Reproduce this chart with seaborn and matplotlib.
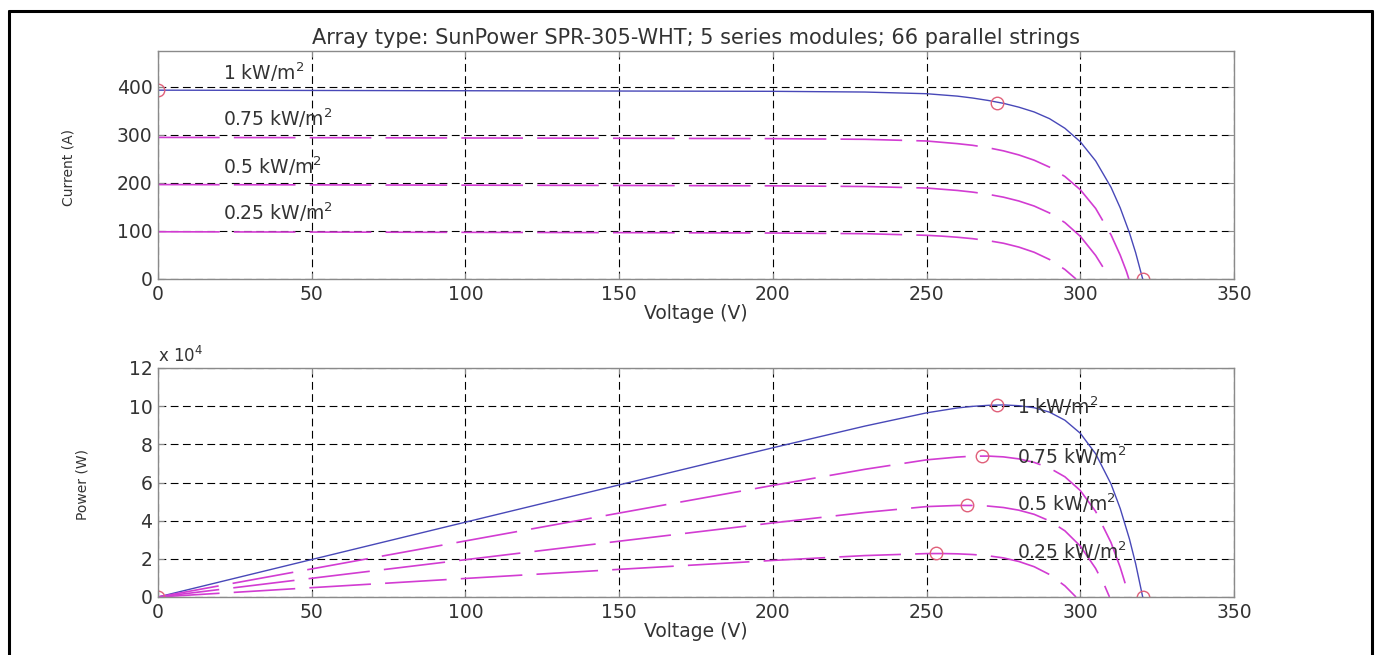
import matplotlib
matplotlib.use("Agg")
import matplotlib.pyplot as plt
import seaborn as sns
from matplotlib.lines import Line2D

# ---------------- data ----------------
irradiance_labels = ["1 kW/m$^2$", "0.75 kW/m$^2$", "0.5 kW/m$^2$", "0.25 kW/m$^2$"]

V_1000 = [0, 50, 100, 150, 200, 230, 250, 260, 265, 270, 275, 280, 285, 290, 295, 300, 305, 310, 313, 316, 318, 320.3]
I_1000 = [393.4, 392.8, 392.2, 391.6, 391.0, 389.5, 386.0, 381.0, 377.0, 372.0, 366.0, 358.0, 348.0, 334.0, 314.0,
          286.0, 246.0, 191.0, 148.0, 96.0, 55.0, 0.0]

V_750 = [0, 50, 100, 150, 200, 230, 250, 260, 265, 270, 275, 280, 285, 290, 295, 300, 305, 310, 313, 315, 315.8]
I_750 = [295.0, 294.4, 293.8, 293.2, 292.4, 291.0, 287.5, 282.0, 278.5, 273.5, 267.0, 258.5, 247.5, 233.0, 213.5,
         186.0, 147.0, 92.0, 49.5, 16.0, 0.0]

V_500 = [0, 50, 100, 150, 200, 230, 250, 260, 265, 270, 275, 280, 285, 290, 295, 300, 305, 308, 309.5]
I_500 = [196.7, 196.1, 195.5, 194.9, 194.1, 192.7, 189.5, 184.5, 181.0, 176.5, 170.5, 162.5, 152.0, 137.5, 117.5,
         89.0, 49.0, 18.3, 0.0]

V_250 = [0, 50, 100, 150, 200, 230, 250, 255, 260, 265, 270, 275, 280, 285, 290, 295, 298.6]
I_250 = [98.4, 97.8, 97.2, 96.6, 95.8, 94.4, 91.0, 89.3, 87.0, 84.0, 80.0, 74.5, 66.5, 55.7, 40.6, 19.8, 0.0]

# key points of the 1 kW/m2 I-V curve (Isc, MPP, Voc)
iv_marker_V = [0, 273, 320.3]
iv_marker_I = [393.4, 367.2, 0.0]

# maximum power points of each curve + (0,0) and Voc of 1 kW/m2
pv_marker_V = [0, 273, 268, 263, 253, 320.3]
pv_marker_P = [0, 100500, 73900, 48000, 22800, 0]

# label positions
iv_label_y = [430, 334, 234, 140]
pv_label_y = [100100, 73900, 49300, 24100]

x_ticks = [0, 50, 100, 150, 200, 250, 300, 350]
i_ticks = [0, 100, 200, 300, 400]
p_ticks = [0, 20000, 40000, 60000, 80000, 100000, 120000]
p_tick_labels = ["0", "2", "4", "6", "8", "10", "12"]

title = "Array type: SunPower SPR-305-WHT; 5 series modules; 66 parallel strings"

# ---------------- style ----------------
sns.set_theme(style="white")
plt.rcParams["font.family"] = ["DejaVu Sans"]
plt.rcParams["mathtext.fontset"] = "dejavusans"

BLUE = "#4848b8"
MAG = "#d23cd2"
MARK = "#e0607a"
SPINE = "#8a8a8a"
TXT = "#333333"
dash_long = (0, (37, 8.5))

W, H = 1380, 655
fig = plt.figure(figsize=(W / 100, H / 100), dpi=100)
fig.patch.set_facecolor("white")

left, right = 158 / W, 1234 / W
ax1 = fig.add_axes([left, 1 - 279 / H, right - left, (279 - 51) / H])
ax2 = fig.add_axes([left, 1 - 597 / H, right - left, (597 - 368) / H])

curves_V = [V_1000, V_750, V_500, V_250]
curves_I = [I_1000, I_750, I_500, I_250]

for k, (vv, ii) in enumerate(zip(curves_V, curves_I)):
    pp = [v * i for v, i in zip(vv, ii)]
    if k == 0:
        kw = dict(color=BLUE, linewidth=1.0, linestyle="-")
    else:
        kw = dict(color=MAG, linewidth=1.2, linestyle=dash_long)
    sns.lineplot(x=vv, y=ii, ax=ax1, sort=False, **kw)
    sns.lineplot(x=vv, y=pp, ax=ax2, sort=False, **kw)

mk = dict(marker="o", linestyle="none", markersize=9, markerfacecolor="none",
          markeredgecolor=MARK, markeredgewidth=1.0, sort=False)
sns.lineplot(x=iv_marker_V, y=iv_marker_I, ax=ax1, **mk)
sns.lineplot(x=pv_marker_V, y=pv_marker_P, ax=ax2, **mk)

for ax in (ax1, ax2):
    ax.set_xlim(0, 350)
    ax.set_xticks(x_ticks)
    ax.set_xticklabels([str(t) for t in x_ticks])
    ax.grid(True, color="black", linestyle=(0, (7, 4)), linewidth=0.8)
    ax.set_axisbelow(True)
    for s in ax.spines.values():
        s.set_color(SPINE)
        s.set_linewidth(1.0)
        s.set_visible(True)
    ax.tick_params(direction="in", length=4, width=0.8, color=SPINE, labelcolor=TXT,
                   labelsize=13.5, top=True, right=True, bottom=True, left=True, pad=4)
    ax.set_xlabel("Voltage (V)", fontsize=13.5, color=TXT, labelpad=0)

ax1.set_ylim(0, 475)
ax1.set_yticks(i_ticks)
ax1.set_yticklabels([str(t) for t in i_ticks])
ax1.set_ylabel("Current (A)", fontsize=10, color=TXT)
ax1.yaxis.set_label_coords(-0.077, 0.49)
ax1.set_title(title, fontsize=15, color=TXT, pad=5)

ax2.set_ylim(0, 120000)
ax2.set_yticks(p_ticks)
ax2.set_yticklabels(p_tick_labels)
ax2.set_ylabel("Power (W)", fontsize=10, color=TXT)
ax2.yaxis.set_label_coords(-0.064, 0.49)
ax2.text(0.0, 1.01, r"x 10$^4$", transform=ax2.transAxes, ha="left", va="bottom",
         fontsize=12, color=TXT)

for lab, y in zip(irradiance_labels, iv_label_y):
    ax1.text(21, y, lab, ha="left", va="center", fontsize=13.5, color=TXT)
for lab, y in zip(irradiance_labels, pv_label_y):
    ax2.text(279.5, y, lab, ha="left", va="center", fontsize=13.5, color=TXT)

# outer black frame (bottom edge is outside the picture)
fig.add_artist(Line2D([8.5 / W, 8.5 / W], [0, 1 - 11 / H], transform=fig.transFigure, color="black", lw=2.2))
fig.add_artist(Line2D([8.5 / W, 1371.5 / W], [1 - 11 / H, 1 - 11 / H], transform=fig.transFigure, color="black", lw=2.2))
fig.add_artist(Line2D([1371.5 / W, 1371.5 / W], [0, 1 - 11 / H], transform=fig.transFigure, color="black", lw=2.2))

fig.savefig("out.png", dpi=100, facecolor="white")
